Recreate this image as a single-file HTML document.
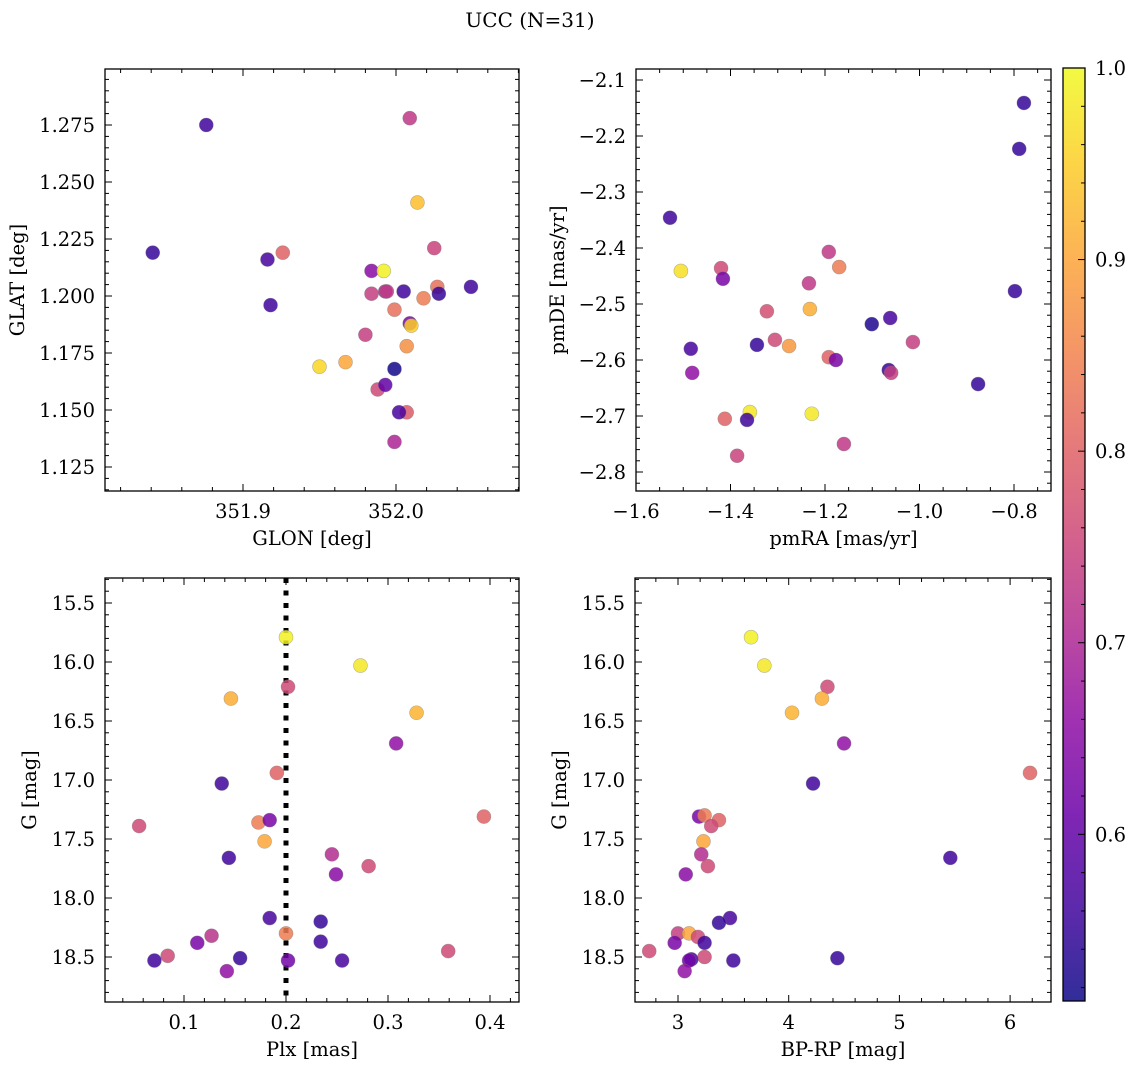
<!DOCTYPE html>
<html><head><meta charset="utf-8"><style>
html,body{margin:0;padding:0;background:#fff;}
svg{display:block;font-family:"DejaVu Serif","Liberation Serif",serif;}
</style></head><body>
<svg id="fig" width="1136" height="1068" viewBox="0 0 1136 1068" xmlns="http://www.w3.org/2000/svg">
<rect x="0" y="0" width="1136" height="1068" fill="#fff"/>
<text x="530" y="27" font-size="20" text-anchor="middle">UCC (N=31)</text>
</svg>
<script>
// ---- data ----
const glon = [351.876,352.009,352.014,351.841,351.916,351.926,352.025,351.984,351.992,351.918,351.984,351.993,351.994,352.005,352.027,352.028,352.049,352.018,351.999,352.009,352.010,351.980,352.007,351.967,351.950,351.999,351.988,351.993,352.007,352.002,351.999];
const glat = [1.275,1.278,1.241,1.219,1.216,1.219,1.221,1.211,1.211,1.196,1.201,1.202,1.202,1.202,1.204,1.201,1.204,1.199,1.194,1.188,1.187,1.183,1.178,1.171,1.169,1.168,1.159,1.161,1.149,1.149,1.136];
const cTL = [0.56,0.73,0.93,0.55,0.57,0.80,0.75,0.65,0.99,0.56,0.74,0.70,0.73,0.56,0.82,0.55,0.56,0.84,0.82,0.63,0.95,0.74,0.87,0.90,0.96,0.52,0.76,0.60,0.79,0.57,0.70];

const pmra = [-0.779,-0.789,-1.528,-1.505,-1.420,-1.416,-1.192,-1.170,-1.234,-1.232,-1.323,-0.798,-1.101,-1.062,-1.344,-1.306,-1.276,-1.484,-1.014,-1.192,-1.177,-1.065,-1.060,-1.481,-0.876,-1.359,-1.365,-1.412,-1.228,-1.160,-1.386];
const pmde = [-2.141,-2.223,-2.346,-2.441,-2.436,-2.455,-2.407,-2.434,-2.463,-2.509,-2.513,-2.477,-2.536,-2.525,-2.573,-2.564,-2.575,-2.580,-2.568,-2.595,-2.600,-2.618,-2.623,-2.623,-2.643,-2.693,-2.707,-2.705,-2.696,-2.750,-2.771];
const cTR = [0.55,0.55,0.56,0.97,0.76,0.63,0.73,0.84,0.73,0.91,0.77,0.55,0.53,0.57,0.55,0.76,0.88,0.57,0.74,0.80,0.63,0.55,0.74,0.66,0.55,0.98,0.56,0.80,0.98,0.73,0.75];

const plx = [0.200,0.273,0.202,0.146,0.328,0.308,0.137,0.191,0.394,0.056,0.173,0.184,0.179,0.144,0.245,0.249,0.281,0.184,0.234,0.127,0.200,0.113,0.234,0.359,0.084,0.155,0.202,0.071,0.255,0.142];
const gBL = [15.79,16.03,16.21,16.31,16.43,16.69,17.03,16.94,17.31,17.39,17.36,17.34,17.52,17.66,17.63,17.80,17.73,18.17,18.20,18.32,18.30,18.38,18.37,18.45,18.49,18.51,18.53,18.53,18.53,18.62];
const cBL = [0.99,0.98,0.76,0.91,0.92,0.66,0.56,0.80,0.80,0.76,0.84,0.63,0.90,0.56,0.71,0.65,0.76,0.57,0.55,0.72,0.84,0.63,0.56,0.76,0.76,0.55,0.62,0.56,0.57,0.66];

const bprp = [3.66,3.78,4.35,4.30,4.03,4.50,6.18,4.22,3.19,3.24,3.37,3.30,3.23,3.21,3.27,3.07,5.46,3.47,3.37,3.00,3.10,3.18,2.97,3.24,2.74,3.24,3.12,3.10,3.50,4.44,3.06];
const gBR = [15.79,16.03,16.21,16.31,16.43,16.69,16.94,17.03,17.31,17.30,17.34,17.39,17.52,17.63,17.73,17.80,17.66,18.17,18.21,18.30,18.30,18.33,18.38,18.38,18.45,18.50,18.52,18.53,18.53,18.51,18.62];
const cBR = [0.99,0.98,0.76,0.91,0.92,0.66,0.80,0.56,0.63,0.84,0.80,0.76,0.90,0.71,0.76,0.65,0.56,0.57,0.55,0.74,0.90,0.76,0.63,0.56,0.76,0.76,0.57,0.62,0.56,0.55,0.66];

const cbTicks = [0.6,0.7,0.8,0.9,1.0];
const cMin = 0.513, cMax = 1.0;

// ---- plasma colormap ----
const plasma = ["#0d0887","#41049d","#6a00a8","#8f0da4","#b12a90","#cc4778","#e16462","#f2844b","#fca636","#fcce25","#f0f921"];
function hex(h){return [parseInt(h.substr(1,2),16),parseInt(h.substr(3,2),16),parseInt(h.substr(5,2),16)];}
function cmap(v){
  let t=(v-cMin)/(cMax-cMin); t=Math.max(0,Math.min(1,t));
  const f=t*10, i=Math.min(9,Math.floor(f)), r=f-i;
  const a=hex(plasma[i]), b=hex(plasma[i+1]);
  return "rgb("+a.map((x,k)=>Math.round(x+(b[k]-x)*r)).join(",")+")";
}

const NS="http://www.w3.org/2000/svg";
const svg=document.getElementById("fig");
function mk(tag,attrs,parent){const e=document.createElementNS(NS,tag);for(const k in attrs)e.setAttribute(k,attrs[k]);(parent||svg).appendChild(e);return e;}
function fmt(v,d){const s=Math.abs(v).toFixed(d);return (v<-1e-9?"\u2212":"")+s;}
const TFS=19.5, LFS=19.5;

function panel(cfg){
  const g=mk("g",{});
  
  
  const {L,R,T,B}=cfg;
  const sx=v=>L+(v-cfg.x0)/(cfg.x1-cfg.x0)*(R-L);
  const sy=cfg.yinv ? (v=>T+(v-cfg.y0)/(cfg.y1-cfg.y0)*(B-T)) : (v=>B-(v-cfg.y0)/(cfg.y1-cfg.y0)*(B-T));
  if(cfg.vline!==undefined){
    const ln=mk("line",{x1:sx(cfg.vline),x2:sx(cfg.vline),y1:T,y2:B,stroke:"#000","stroke-width":5,"stroke-dasharray":"5,7.5"},g);
    
    
  }
  for(let i=0;i<cfg.xs.length;i++){
    const c=mk("circle",{cx:sx(cfg.xs[i]),cy:sy(cfg.ys[i]),r:7,fill:cmap(cfg.cs[i]),"fill-opacity":0.85,stroke:"#777","stroke-opacity":0.5,"stroke-width":0.6},g);
    
    
  }
  mk("rect",{x:L,y:T,width:R-L,height:B-T,fill:"none",stroke:"#000","stroke-width":1.3},g);
  const eps=1e-9;
  for(let v=Math.ceil(cfg.x0/cfg.xmin-eps)*cfg.xmin; v<=cfg.x1+eps; v+=cfg.xmin){
    const x=sx(v); const isMaj=Math.abs(v/cfg.xmaj-Math.round(v/cfg.xmaj))<1e-6; const l=isMaj?7:4;
    mk("line",{x1:x,x2:x,y1:B,y2:B-l,stroke:"#000","stroke-width":1},g);
    mk("line",{x1:x,x2:x,y1:T,y2:T+l,stroke:"#000","stroke-width":1},g);
    if(isMaj){const t=mk("text",{x:x,y:B+27,"font-size":TFS,"text-anchor":"middle"},g);t.textContent=fmt(v,cfg.xd);
      
      }
  }
  for(let v=Math.ceil(cfg.y0/cfg.ymin-eps)*cfg.ymin; v<=cfg.y1+eps; v+=cfg.ymin){
    const y=sy(v); const isMaj=Math.abs(v/cfg.ymaj-Math.round(v/cfg.ymaj))<1e-6; const l=isMaj?7:4;
    mk("line",{x1:L,x2:L+l,y1:y,y2:y,stroke:"#000","stroke-width":1},g);
    mk("line",{x1:R,x2:R-l,y1:y,y2:y,stroke:"#000","stroke-width":1},g);
    if(isMaj){const t=mk("text",{x:L-10,y:y+7,"font-size":TFS,"text-anchor":"end"},g);t.textContent=fmt(v,cfg.yd);
      
      }
  }
  const xl=mk("text",{x:(L+R)/2,y:B+54,"font-size":LFS,"text-anchor":"middle"},g);xl.textContent=cfg.xlabel;
  
  
  const yx=cfg.ylx, yy=(T+B)/2;
  const yl=mk("text",{x:yx,y:yy,"font-size":LFS,"text-anchor":"middle",transform:"rotate(-90 "+yx+" "+yy+")"},g);yl.textContent=cfg.ylabel;
  
  
}

panel({name:"glon-glat-panel",L:105,R:519,T:69,B:491,x0:351.9-138/1530,x1:351.9+276/1530,y0:1.275-(491-125)/2280,y1:1.275+56/2280,
  xmaj:0.1,xmin:0.02,ymaj:0.025,ymin:0.005,xd:1,yd:3,xs:glon,ys:glat,cs:cTL,xlabel:"GLON [deg]",ylabel:"GLAT [deg]",ylx:24});
panel({name:"proper-motion-panel",L:636,R:1051,T:69,B:491,x0:-1.6,x1:-1.6+415/472.5,y0:-2.1-411/560,y1:-2.1+11/560,
  xmaj:0.2,xmin:0.05,ymaj:0.1,ymin:0.02,xd:1,yd:1,xs:pmra,ys:pmde,cs:cTR,xlabel:"pmRA [mas/yr]",ylabel:"pmDE [mas/yr]",ylx:564});
panel({name:"plx-g-panel",L:105,R:519,T:578,B:1002,x0:0.1-79/1020,x1:0.1+335/1020,y0:15.5-25/118,y1:15.5+399/118,yinv:true,
  xmaj:0.1,xmin:0.02,ymaj:0.5,ymin:0.1,xd:1,yd:1,xs:plx,ys:gBL,cs:cBL,xlabel:"Plx [mas]",ylabel:"G [mag]",ylx:36,vline:0.2});
panel({name:"cmd-panel",L:635,R:1051,T:578,B:1002,x0:3-43/110.7,x1:3+373/110.7,y0:15.5-25/118,y1:15.5+399/118,yinv:true,
  xmaj:1,xmin:0.2,ymaj:0.5,ymin:0.1,xd:0,yd:1,xs:bprp,ys:gBR,cs:cBR,xlabel:"BP-RP [mag]",ylabel:"G [mag]",ylx:566});

(function(){
  const L=1063,R=1085,T=68,B=1001;
  const defs=mk("defs",{});
  const grad=mk("linearGradient",{id:"cbg",x1:0,y1:1,x2:0,y2:0},defs);
  for(let k=0;k<=20;k++){const v=cMin+(cMax-cMin)*k/20;mk("stop",{offset:k/20,"stop-color":cmap(v),"stop-opacity":0.85},grad);}
  const g=mk("g",{});
  
  
  mk("rect",{x:L,y:T,width:R-L,height:B-T,fill:"url(#cbg)",stroke:"#000","stroke-width":1.3},g);
  const sy=v=>B-(v-cMin)/(cMax-cMin)*(B-T);
  for(let v=0.52; v<=1.0001; v+=0.02){
    const y=sy(v); const isMaj=Math.abs(v*10-Math.round(v*10))<1e-6;
    mk("line",{x1:R,x2:R-(isMaj?7:4),y1:y,y2:y,stroke:"#000","stroke-width":1},g);
  }
  cbTicks.forEach(v=>{const t=mk("text",{x:R+10,y:sy(v)+7,"font-size":TFS},g);t.textContent=v.toFixed(1);
    
    });
})();
</script>
</body></html>
